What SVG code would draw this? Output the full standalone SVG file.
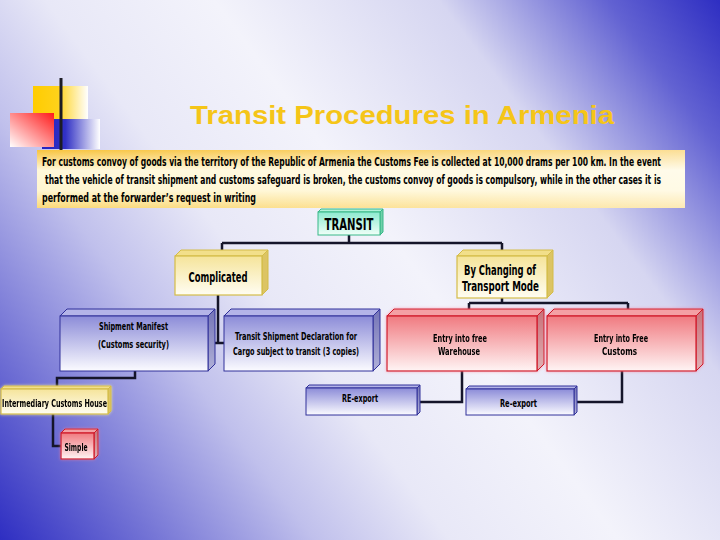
<svg xmlns="http://www.w3.org/2000/svg" width="720" height="540" viewBox="0 0 720 540">
<style>
.t{font-family:'Liberation Sans Narrow','DejaVu Sans Condensed','Liberation Sans',sans-serif;font-weight:bold;fill:#000;text-anchor:middle}
.p{font-family:'Liberation Sans Narrow','DejaVu Sans Condensed','Liberation Sans',sans-serif;font-weight:bold;fill:#000;font-size:12px}
.title{font-family:'Liberation Sans','DejaVu Sans',sans-serif;font-weight:bold;fill:#f5c518;font-size:26px;text-anchor:middle}
.conn{fill:none;stroke:#15152a;stroke-width:2.5}
.blue .f{fill:url(#gBlue);stroke:#30309a;stroke-width:1}
.blue .tp{fill:#b4b4e8;stroke:#30309a;stroke-width:1}
.blue .sd{fill:url(#gBlueSide);stroke:#30309a;stroke-width:1}
.red .f{fill:url(#gRed);stroke:#d01828;stroke-width:1.2}
.red .tp{fill:#f4a0a4;stroke:#d01828;stroke-width:1}
.red .sd{fill:url(#gRedSide);stroke:#d01828;stroke-width:1}
.yel .f{fill:url(#gYel);stroke:#d4bc48;stroke-width:1.2}
.yel .tp{fill:#f2df8a;stroke:#d4bc48;stroke-width:1}
.yel .sd{fill:#dcc464;stroke:#d4bc48;stroke-width:1}
.mint .f{fill:url(#gMint);stroke:#38b888;stroke-width:1}
.mint .tp{fill:#b0f2da;stroke:#38b888;stroke-width:1}
.mint .sd{fill:#70d0aa;stroke:#38b888;stroke-width:1}
</style>
<defs>
<linearGradient id="bg" gradientUnits="userSpaceOnUse" x1="720" y1="0" x2="0" y2="540">
<stop offset="0" stop-color="#2e2ec2"/>
<stop offset="0.1" stop-color="#6262d2"/>
<stop offset="0.25" stop-color="#d6d6f1"/>
<stop offset="0.45" stop-color="#f3f3fb"/>
<stop offset="0.6" stop-color="#e8e8f7"/>
<stop offset="0.72" stop-color="#c0c0ec"/>
<stop offset="0.86" stop-color="#7676d6"/>
<stop offset="1" stop-color="#2e2ec2"/>
</linearGradient>
<linearGradient id="gBlue" x1="0" y1="0" x2="0" y2="1"><stop offset="0" stop-color="#8c8cd8"/><stop offset="1" stop-color="#fbfbff"/></linearGradient>
<linearGradient id="gBlueSide" x1="0" y1="0" x2="0" y2="1"><stop offset="0" stop-color="#7474b6"/><stop offset="1" stop-color="#b0b0d8"/></linearGradient>
<linearGradient id="gRed" x1="0" y1="0" x2="0" y2="1"><stop offset="0" stop-color="#f07a80"/><stop offset="1" stop-color="#fff4f4"/></linearGradient>
<linearGradient id="gRedSide" x1="0" y1="0" x2="0" y2="1"><stop offset="0" stop-color="#c87078"/><stop offset="1" stop-color="#e0b0b4"/></linearGradient>
<linearGradient id="gYel" x1="0" y1="0" x2="0" y2="1"><stop offset="0" stop-color="#f5e49a"/><stop offset="1" stop-color="#fffdf2"/></linearGradient>
<linearGradient id="gMint" x1="0" y1="0" x2="0" y2="1"><stop offset="0" stop-color="#8eead0"/><stop offset="1" stop-color="#f0fff8"/></linearGradient>
<linearGradient id="gBand" x1="0" y1="0" x2="0" y2="1"><stop offset="0" stop-color="#f8c440"/><stop offset="0.35" stop-color="#fff8da"/><stop offset="0.7" stop-color="#fff6d0"/><stop offset="1" stop-color="#fbd978"/></linearGradient>
<linearGradient id="gBandH" x1="0" y1="0" x2="1" y2="0"><stop offset="0" stop-color="#ffffff" stop-opacity="0"/><stop offset="1" stop-color="#ffffff" stop-opacity="0.45"/></linearGradient>
<linearGradient id="gSqY" x1="0" y1="0" x2="1" y2="0"><stop offset="0" stop-color="#ffcc00"/><stop offset="0.45" stop-color="#ffd21a"/><stop offset="1" stop-color="#ffffff"/></linearGradient>
<linearGradient id="gSqB" x1="0" y1="0" x2="1" y2="0"><stop offset="0" stop-color="#2424c0"/><stop offset="0.4" stop-color="#3030c4"/><stop offset="1" stop-color="#ffffff"/></linearGradient>
<linearGradient id="gSqR" x1="1" y1="0" x2="0" y2="1"><stop offset="0" stop-color="#ff1a1a"/><stop offset="1" stop-color="#ffffff"/></linearGradient>
<linearGradient id="gRule" x1="0" y1="0" x2="1" y2="0"><stop offset="0" stop-color="#1c1c2a"/><stop offset="0.5" stop-color="#77778a"/><stop offset="1" stop-color="#f4f4f8"/></linearGradient>
<filter id="glowR" x="-20%" y="-20%" width="140%" height="140%"><feGaussianBlur in="SourceAlpha" stdDeviation="1.5"/><feColorMatrix type="matrix" values="0 0 0 0 1  0 0 0 0 0.2  0 0 0 0 0.3  0 0 0 0.7 0"/><feMerge><feMergeNode/><feMergeNode in="SourceGraphic"/></feMerge></filter>
<filter id="glowY" x="-20%" y="-30%" width="140%" height="160%"><feGaussianBlur in="SourceAlpha" stdDeviation="1.5"/><feColorMatrix type="matrix" values="0 0 0 0 1  0 0 0 0 0.9  0 0 0 0 0.3  0 0 0 0.8 0"/><feMerge><feMergeNode/><feMergeNode in="SourceGraphic"/></feMerge></filter>
</defs>
<rect width="720" height="540" fill="url(#bg)"/>
<g id="decoration">
<rect x="33" y="86" width="55" height="34" fill="url(#gSqY)"/>
<rect x="42" y="119" width="58" height="30" fill="url(#gSqB)"/>
<rect x="10" y="113" width="44" height="34" fill="url(#gSqR)"/>
<line x1="61" y1="78" x2="61" y2="151" stroke="#1c1c24" stroke-width="3"/>
<line x1="35" y1="141" x2="684" y2="141" stroke="url(#gRule)" stroke-width="3"/>
</g>
<text class="title" x="402" y="124" textLength="424" lengthAdjust="spacingAndGlyphs">Transit Procedures in Armenia</text>
<g id="note">
<rect x="37" y="150" width="648" height="58" fill="url(#gBand)"/>
<rect x="37" y="150" width="648" height="58" fill="url(#gBandH)"/>
<text class="p" x="42" y="166" textLength="619" lengthAdjust="spacingAndGlyphs">For customs convoy of goods via the territory of the Republic of Armenia the Customs Fee is collected at 10,000 drams per 100 km. In the event</text>
<text class="p" x="45" y="184" textLength="616" lengthAdjust="spacingAndGlyphs">that the vehicle of transit shipment and customs safeguard is broken, the customs convoy of goods is compulsory, while in the other cases it is</text>
<text class="p" x="42" y="202" textLength="214" lengthAdjust="spacingAndGlyphs">performed at the forwarder’s request in writing</text>
</g>
<g id="connectors">
<path class="conn" d="M349,235 V243 M222,243 H502 M222,243 V250 M502,243 V250"/>
<path class="conn" d="M218,295 V343 H224 M213,343 H218"/>
<path class="conn" d="M135,371 V378 H57 V386"/>
<path class="conn" d="M53,414 V446 H61"/>
<path class="conn" d="M502,298 V303 M469,303 H628 M469,303 V309 M628,303 V309"/>
<path class="conn" d="M462,371 V402 H420"/>
<path class="conn" d="M622,371 V402 H577"/>
</g>
<g id="transit" class="mint">
<polygon class="tp" points="318,212 321,209 383,209 380,212"/>
<polygon class="sd" points="380,212 383,209 383,232 380,235"/>
<rect class="f" x="318" y="212" width="62" height="23"/>
<text class="t" x="349" y="230" font-size="16" textLength="49" lengthAdjust="spacingAndGlyphs">TRANSIT</text>
</g>
<g id="complicated" class="yel">
<polygon class="tp" points="175,256 181,250 268,250 262,256"/>
<polygon class="sd" points="262,256 268,250 268,289 262,295"/>
<rect class="f" x="175" y="256" width="87" height="39"/>
<text class="t" x="218" y="282" font-size="13.5" textLength="59" lengthAdjust="spacingAndGlyphs">Complicated</text>
</g>
<g id="by-changing" class="yel">
<polygon class="tp" points="457,256 463,250 553,250 547,256"/>
<polygon class="sd" points="547,256 553,250 553,292 547,298"/>
<rect class="f" x="457" y="256" width="90" height="42"/>
<text class="t" x="500" y="275" font-size="13.5" textLength="72" lengthAdjust="spacingAndGlyphs">By Changing of</text>
<text class="t" x="500.5" y="291" font-size="13.5" textLength="77" lengthAdjust="spacingAndGlyphs">Transport Mode</text>
</g>
<g id="shipment-manifest" class="blue">
<polygon class="tp" points="60,316 67,309 215,309 208,316"/>
<polygon class="sd" points="208,316 215,309 215,364 208,371"/>
<rect class="f" x="60" y="316" width="148" height="55"/>
<text class="t" x="133.5" y="330" font-size="10.5" textLength="69" lengthAdjust="spacingAndGlyphs">Shipment Manifest</text>
<text class="t" x="133.5" y="348" font-size="10.5" textLength="71" lengthAdjust="spacingAndGlyphs">(Customs security)</text>
</g>
<g id="transit-declaration" class="blue">
<polygon class="tp" points="224,316 231,309 380,309 373,316"/>
<polygon class="sd" points="373,316 380,309 380,364 373,371"/>
<rect class="f" x="224" y="316" width="149" height="55"/>
<text class="t" x="296" y="340" font-size="10.5" textLength="122" lengthAdjust="spacingAndGlyphs">Transit Shipment Declaration for</text>
<text class="t" x="296" y="355" font-size="10.5" textLength="126" lengthAdjust="spacingAndGlyphs">Cargo subject to transit (3 copies)</text>
</g>
<g id="free-warehouse" class="red" filter="url(#glowR)">
<polygon class="tp" points="387,316 394,309 544,309 537,316"/>
<polygon class="sd" points="537,316 544,309 544,364 537,371"/>
<rect class="f" x="387" y="316" width="150" height="55"/>
<text class="t" x="460" y="342" font-size="10.5" textLength="54" lengthAdjust="spacingAndGlyphs">Entry into free</text>
<text class="t" x="459" y="355" font-size="10.5" textLength="42" lengthAdjust="spacingAndGlyphs">Warehouse</text>
</g>
<g id="free-customs" class="red" filter="url(#glowR)">
<polygon class="tp" points="547,316 554,309 703,309 696,316"/>
<polygon class="sd" points="696,316 703,309 703,364 696,371"/>
<rect class="f" x="547" y="316" width="149" height="55"/>
<text class="t" x="621" y="342" font-size="10.5" textLength="54" lengthAdjust="spacingAndGlyphs">Entry into Free</text>
<text class="t" x="619.5" y="355" font-size="10.5" textLength="35" lengthAdjust="spacingAndGlyphs">Customs</text>
</g>
<g id="re-export-1" class="blue">
<polygon class="tp" points="306,388 309,385 420,385 417,388"/>
<polygon class="sd" points="417,388 420,385 420,412 417,415"/>
<rect class="f" x="306" y="388" width="111" height="27"/>
<text class="t" x="360" y="402" font-size="10.5" textLength="36" lengthAdjust="spacingAndGlyphs">RE-export</text>
</g>
<g id="re-export-2" class="blue">
<polygon class="tp" points="466,389 469,386 577,386 574,389"/>
<polygon class="sd" points="574,389 577,386 577,412 574,415"/>
<rect class="f" x="466" y="389" width="108" height="26"/>
<text class="t" x="518.5" y="407" font-size="10.5" textLength="37" lengthAdjust="spacingAndGlyphs">Re-export</text>
</g>
<g id="intermediary" class="yel" filter="url(#glowY)">
<polygon class="tp" points="1,389 4,386 111,386 108,389"/>
<polygon class="sd" points="108,389 111,386 111,411 108,414"/>
<rect class="f" x="1" y="389" width="107" height="25"/>
<text class="t" x="54.5" y="407" font-size="10.5" textLength="105" lengthAdjust="spacingAndGlyphs">Intermediary Customs House</text>
</g>
<g id="simple" class="red" filter="url(#glowR)">
<polygon class="tp" points="61,433 65,429 98,429 94,433"/>
<polygon class="sd" points="94,433 98,429 98,455 94,459"/>
<rect class="f" x="61" y="433" width="33" height="26"/>
<text class="t" x="76" y="451" font-size="10.5" textLength="23" lengthAdjust="spacingAndGlyphs">Simple</text>
</g>
</svg>
